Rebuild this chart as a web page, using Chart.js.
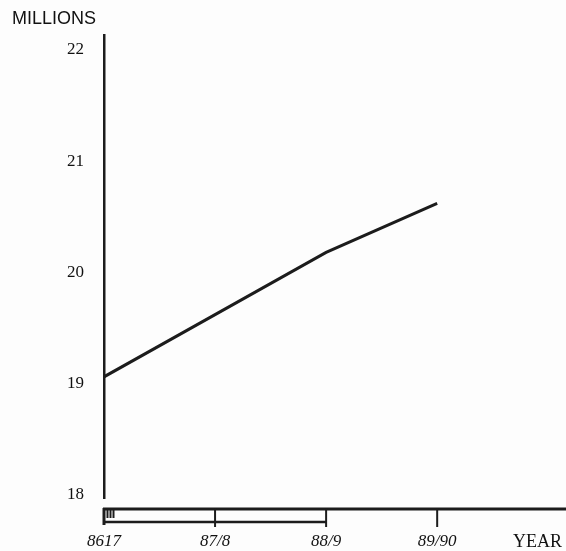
<!DOCTYPE html>
<html>
<head>
<meta charset="utf-8">
<script src="https://cdn.jsdelivr.net/npm/chart.js@4/dist/chart.umd.min.js"></script>
<style>
  body { margin: 0; background: #fdfdfd; }
  #wrap { width: 566px; height: 551px; position: relative; }
</style>
</head>
<body>
<div id="wrap"><canvas id="chart"></canvas></div>
<script>
// values
const years = ['8617', '87/8', '88/9', '89/90'];
const yearPos = [0, 1, 2, 3];
const millions = [19.06, 19.62, 20.18, 20.62];
const yTicks = [18, 19, 20, 21, 22];

const ink = '#1c1c1c';

// axis decorations, MILLIONS and YEAR text
const scanAxes = {
    id: 'scanAxes',
    afterDraw(chart) {
        const ctx = chart.ctx;
        const x = chart.scales.x;
        const x0 = x.getPixelForValue(yearPos[0]);
        const x2 = x.getPixelForValue(yearPos[2]);
        ctx.save();
        ctx.strokeStyle = ink;
        ctx.lineCap = 'butt';

        // upper axis line
        ctx.lineWidth = 3;
        ctx.beginPath();
        ctx.moveTo(x0 - 1, 509);
        ctx.lineTo(chart.width, 509);
        ctx.stroke();

        // lower bracket line up to 88/9
        ctx.lineWidth = 2.5;
        ctx.beginPath();
        ctx.moveTo(x0 - 1, 522);
        ctx.lineTo(x2, 522);
        ctx.stroke();

        // year ticks
        yearPos.forEach((v, i) => {
            const px = x.getPixelForValue(v);
            ctx.lineWidth = i === 0 ? 3 : 2;
            ctx.beginPath();
            ctx.moveTo(px, 508);
            ctx.lineTo(px, i === 0 ? 525 : 527);
            ctx.stroke();
        });

        // little III marks
        ctx.lineWidth = 2;
        [3.5, 6.5, 9.5].forEach(d => {
            ctx.beginPath();
            ctx.moveTo(x0 + d, 509);
            ctx.lineTo(x0 + d, 518);
            ctx.stroke();
        });

        ctx.fillStyle = '#111';
        ctx.textBaseline = 'middle';
        ctx.textAlign = 'left';
        ctx.font = '18px "Liberation Sans", Arial, sans-serif';
        ctx.fillText('MILLIONS', 12, 19);
        ctx.font = '18px "Liberation Serif", "Times New Roman", serif';
        ctx.fillText('YEAR', 513, 542);
        ctx.restore();
    }
};

new Chart(document.getElementById('chart'), {
    type: 'line',
    data: {
        datasets: [{
            data: yearPos.map((v, i) => ({ x: v, y: millions[i] })),
            borderColor: ink,
            borderWidth: 3,
            pointRadius: 0,
            tension: 0,
            fill: false
        }]
    },
    options: {
        responsive: true,
        maintainAspectRatio: false,
        animation: false,
        layout: { padding: { top: 35, left: 0, right: 0, bottom: 0 } },
        plugins: {
            legend: { display: false },
            tooltip: { enabled: false }
        },
        scales: {
            x: {
                type: 'linear',
                min: 0,
                max: 4.16,
                grid: { display: false, drawTicks: false },
                border: { display: false },
                afterBuildTicks: s => { s.ticks = yearPos.map(v => ({ value: v })); },
                afterFit: s => { s.height = 53; },
                ticks: {
                    autoSkip: false,
                    maxRotation: 0,
                    padding: 33,
                    color: '#111',
                    font: { family: '"Liberation Serif", "Times New Roman", serif', size: 17, style: 'italic' },
                    callback: v => years[yearPos.indexOf(v)]
                }
            },
            y: {
                min: 17.97,
                max: 22.135,
                grid: { display: false, drawTicks: false },
                border: { display: true, color: ink, width: 2.5 },
                afterBuildTicks: s => { s.ticks = yTicks.map(v => ({ value: v })); },
                afterFit: s => { s.width = 104; },
                ticks: {
                    padding: 20,
                    color: '#111',
                    font: { family: '"Liberation Serif", "Times New Roman", serif', size: 17 }
                }
            }
        }
    },
    plugins: [scanAxes]
});
</script>
</body>
</html>
